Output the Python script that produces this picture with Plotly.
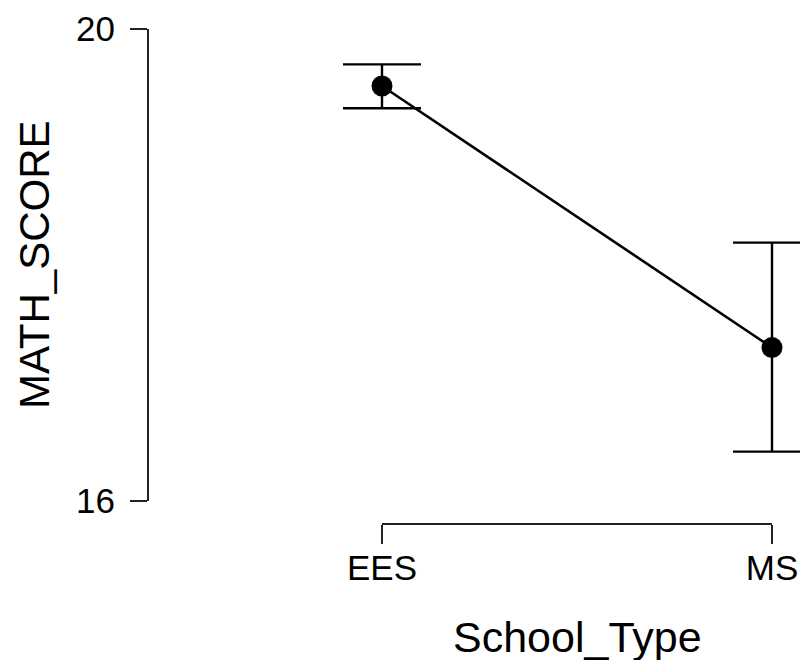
import plotly.graph_objects as go

categories = ["EES", "MS"]
means = [19.517, 17.30]
upper = [19.70, 18.19]
lower = [19.328, 16.418]
y_ticks = [16, 20]
x_title = "School_Type"
y_title = "MATH_SCORE"

xs = list(range(len(categories)))
err_plus = [u - m for u, m in zip(upper, means)]
err_minus = [m - l for m, l in zip(means, lower)]

FONT = "Liberation Sans, Arial, sans-serif"

fig = go.Figure()
fig.add_trace(go.Scatter(
    x=xs, y=means, mode="lines+markers",
    line=dict(color="black", width=2.6),
    marker=dict(color="black", size=21),
    error_y=dict(type="data", symmetric=False, array=err_plus, arrayminus=err_minus,
                 color="black", thickness=2.4, width=39),
    cliponaxis=False,
    showlegend=False,
))

# R-style range-limited axis lines
fig.add_shape(type="line", xref="paper", yref="y", x0=0, x1=0,
              y0=min(y_ticks), y1=max(y_ticks), line=dict(color="#222", width=2))
fig.add_shape(type="line", xref="x", yref="paper", x0=xs[0], x1=xs[-1],
              y0=0, y1=0, line=dict(color="#222", width=2))

fig.add_annotation(x=(xs[0] + xs[-1]) / 2, xref="x", y=-0.228, yref="paper",
                   text=x_title, showarrow=False, xanchor="center", yanchor="middle",
                   font=dict(family=FONT, size=43, color="black"))
fig.add_annotation(x=-0.1727, xref="paper", y=sum(y_ticks) / 2, yref="y",
                   text=y_title, showarrow=False, textangle=-90,
                   xanchor="center", yanchor="middle",
                   font=dict(family=FONT, size=42, color="black"))

fig.update_layout(
    width=800, height=652,
    margin=dict(l=140, r=0, t=21, b=136),
    plot_bgcolor="white", paper_bgcolor="white",
    font=dict(family=FONT, color="black"),
    xaxis=dict(range=[-0.6, 1.0923], tickvals=xs, ticktext=categories,
               showgrid=False, zeroline=False, showline=False,
               ticks="outside", ticklen=19, tickwidth=2, tickcolor="#222",
               ticklabelstandoff=-6,
               tickfont=dict(family=FONT, size=35, color="black")),
    yaxis=dict(range=[15.805, 20.0], tickvals=y_ticks,
               showgrid=False, zeroline=False, showline=False,
               ticks="outside", ticklen=17, tickwidth=2, tickcolor="#222",
               ticklabelstandoff=8,
               tickfont=dict(family=FONT, size=35, color="black")),
)

fig.write_html("out.html")
